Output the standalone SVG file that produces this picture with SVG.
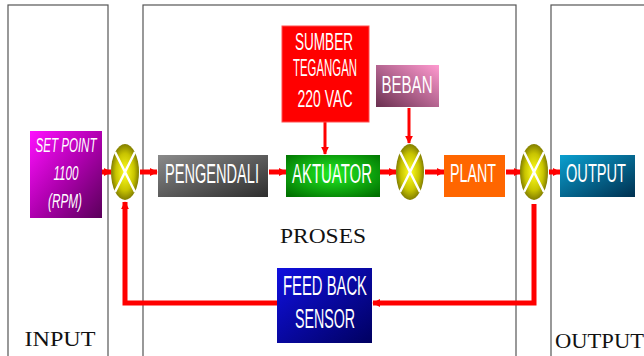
<svg xmlns="http://www.w3.org/2000/svg" width="644" height="356" viewBox="0 0 644 356">
<defs>
<linearGradient id="gSet" x1="0" y1="0" x2="1" y2="1"><stop offset="0" stop-color="#ff10ff"/><stop offset="0.5" stop-color="#b000b0"/><stop offset="1" stop-color="#5a005a"/></linearGradient>
<linearGradient id="gPen" x1="0" y1="0" x2="1" y2="1"><stop offset="0" stop-color="#8a8a8a"/><stop offset="1" stop-color="#2e2e2e"/></linearGradient>
<radialGradient id="gAkt" cx="0.5" cy="0.45" r="0.7"><stop offset="0" stop-color="#22ee22"/><stop offset="1" stop-color="#007000"/></radialGradient>
<linearGradient id="gOut" x1="0" y1="0" x2="1" y2="1"><stop offset="0" stop-color="#0aa0d0"/><stop offset="1" stop-color="#003050"/></linearGradient>
<linearGradient id="gBeb" x1="0" y1="1" x2="1" y2="0"><stop offset="0" stop-color="#6a3050"/><stop offset="1" stop-color="#ff9ad0"/></linearGradient>
<linearGradient id="gFb" x1="0" y1="0" x2="1" y2="1"><stop offset="0" stop-color="#1010e0"/><stop offset="1" stop-color="#000060"/></linearGradient>
<radialGradient id="gSum" cx="0.5" cy="0.5" r="0.55"><stop offset="0" stop-color="#ffff20"/><stop offset="0.6" stop-color="#c8c400"/><stop offset="1" stop-color="#6e6a00"/></radialGradient>
<marker id="ah" viewBox="0 0 10 10" refX="9" refY="5" markerWidth="8" markerHeight="11" markerUnits="userSpaceOnUse" orient="auto"><path d="M0,0 L10,5 L0,10 Z" fill="#ff0000"/></marker>
<marker id="ahs" viewBox="0 0 10 10" refX="9" refY="5" markerWidth="8" markerHeight="8" markerUnits="userSpaceOnUse" orient="auto"><path d="M0,0 L10,5 L0,10 Z" fill="#ff0000"/></marker>
</defs>
<style>
.frame{fill:none;stroke:#555;stroke-width:1.2}
.lbl{font-family:"Liberation Serif","Times New Roman",serif;font-size:20px;fill:#111}
.bt{font-family:"Liberation Sans Narrow","Liberation Sans",Arial,sans-serif;fill:#fff;text-anchor:middle}
.wire{fill:none;stroke:#ff0000;stroke-width:5}
.thin{fill:none;stroke:#ff0000;stroke-width:3}
.x{stroke:#fff;stroke-width:2.5}
</style>
<g id="frames">
<rect class="frame" x="8" y="5" width="100" height="360"/>
<rect class="frame" x="143" y="5" width="373" height="360"/>
<rect class="frame" x="551" y="5" width="110" height="360"/>
<text class="lbl" x="60" y="346" text-anchor="middle" textLength="71" lengthAdjust="spacingAndGlyphs">INPUT</text>
<text class="lbl" x="323" y="243" text-anchor="middle" textLength="86" lengthAdjust="spacingAndGlyphs">PROSES</text>
<text class="lbl" x="555" y="348" textLength="89" lengthAdjust="spacingAndGlyphs">OUTPUT</text>
</g>
<g id="connectors">
<path class="wire" d="M101,172 L111,172" marker-end="url(#ah)"/>
<path class="wire" d="M140,172 L157,172" marker-end="url(#ah)"/>
<path class="wire" d="M269,172 L286,172" marker-end="url(#ah)"/>
<path class="wire" d="M380,172 L396,172" marker-end="url(#ah)"/>
<path class="wire" d="M425,172 L444,172" marker-end="url(#ah)"/>
<path class="wire" d="M506,172 L521,172" marker-end="url(#ah)"/>
<path class="wire" d="M549,172 L560,172" marker-end="url(#ah)"/>
<path class="thin" d="M325,122 L325,154" marker-end="url(#ahs)"/>
<path class="thin" d="M409,108 L409,143" marker-end="url(#ahs)"/>
<path class="wire" d="M534,204 L534,303 L373,303" marker-end="url(#ah)"/>
<path class="wire" d="M277,303 L125,303 L125,202" marker-end="url(#ah)"/>
</g>
<g id="setpoint">
<rect x="30" y="131" width="72" height="87" fill="url(#gSet)"/>
<text class="bt" x="66" y="152" font-size="20" font-style="italic" textLength="61" lengthAdjust="spacingAndGlyphs">SET POINT</text>
<text class="bt" x="66" y="180" font-size="21" font-style="italic" textLength="25" lengthAdjust="spacingAndGlyphs">1100</text>
<text class="bt" x="65" y="208" font-size="21" font-style="italic" textLength="34" lengthAdjust="spacingAndGlyphs">(RPM)</text>
</g>
<g id="sum1">
<ellipse cx="125" cy="172" rx="14" ry="28" fill="url(#gSum)"/>
<path class="x" d="M115,152 L135,192 M135,152 L115,192"/>
</g>
<g id="pengendali">
<rect x="158" y="155" width="110" height="42" fill="url(#gPen)"/>
<text class="bt" x="212" y="183" font-size="27" textLength="94" lengthAdjust="spacingAndGlyphs">PENGENDALI</text>
</g>
<g id="aktuator">
<rect x="286" y="155" width="94" height="42" fill="url(#gAkt)"/>
<text class="bt" x="332" y="183" font-size="27" textLength="80" lengthAdjust="spacingAndGlyphs">AKTUATOR</text>
</g>
<g id="sumber">
<rect x="282" y="26" width="87" height="96" fill="#ff0000" stroke="#ff5050" stroke-width="1"/>
<text class="bt" x="324" y="50" font-size="23" textLength="58" lengthAdjust="spacingAndGlyphs">SUMBER</text>
<text class="bt" x="325" y="76" font-size="23" textLength="64" lengthAdjust="spacingAndGlyphs">TEGANGAN</text>
<text class="bt" x="325" y="107" font-size="23" textLength="55" lengthAdjust="spacingAndGlyphs">220 VAC</text>
</g>
<g id="beban">
<rect x="376" y="65" width="63" height="42" fill="url(#gBeb)"/>
<text class="bt" x="407" y="93" font-size="24" textLength="51" lengthAdjust="spacingAndGlyphs">BEBAN</text>
</g>
<g id="sum2">
<ellipse cx="410" cy="172" rx="14" ry="28" fill="url(#gSum)"/>
<path class="x" d="M400,152 L420,192 M420,152 L400,192"/>
</g>
<g id="plant">
<rect x="444" y="155" width="61" height="42" fill="#ff6600"/>
<text class="bt" x="473" y="182" font-size="26" textLength="46" lengthAdjust="spacingAndGlyphs">PLANT</text>
</g>
<g id="sum3">
<ellipse cx="534" cy="172" rx="14" ry="28" fill="url(#gSum)"/>
<path class="x" d="M524,152 L544,192 M544,152 L524,192"/>
</g>
<g id="output">
<rect x="560" y="155" width="75" height="42" fill="url(#gOut)"/>
<text class="bt" x="596" y="182" font-size="26" textLength="60" lengthAdjust="spacingAndGlyphs">OUTPUT</text>
</g>
<g id="feedback">
<rect x="277" y="268" width="95" height="75" fill="url(#gFb)"/>
<text class="bt" x="325" y="295" font-size="27" textLength="84" lengthAdjust="spacingAndGlyphs">FEED BACK</text>
<text class="bt" x="325" y="328" font-size="27" textLength="60" lengthAdjust="spacingAndGlyphs">SENSOR</text>
</g>
</svg>
